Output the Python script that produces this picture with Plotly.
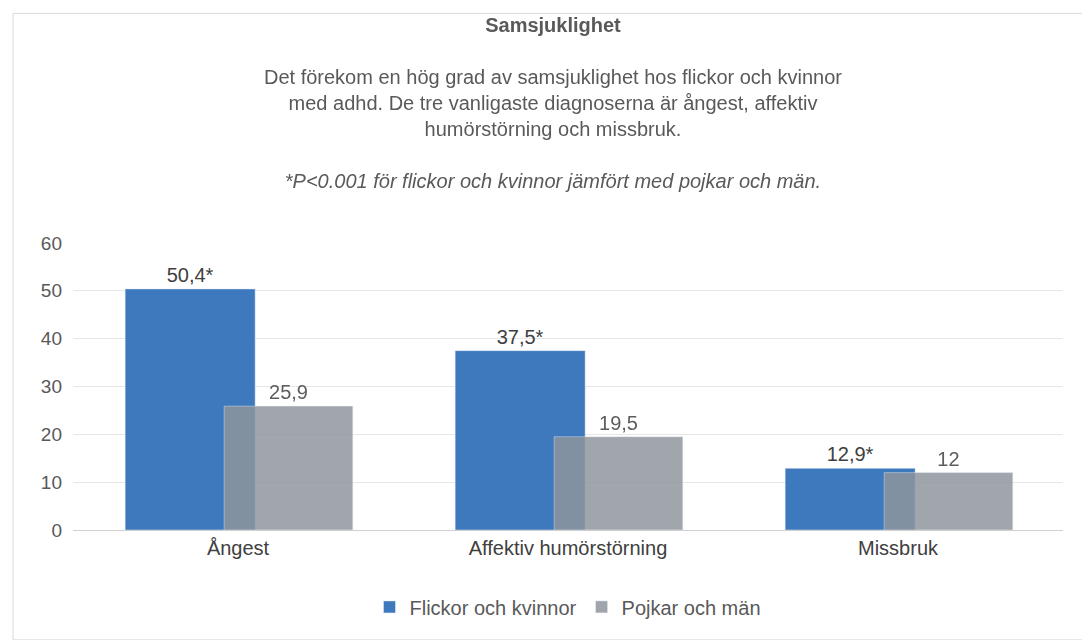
import plotly.graph_objects as go

categories = ["Ångest", "Affektiv humörstörning", "Missbruk"]
flickor = [50.4, 37.5, 12.9]
pojkar = [25.9, 19.5, 12]
flickor_labels = ["50,4*", "37,5*", "12,9*"]
pojkar_labels = ["25,9", "19,5", "12"]

fig = go.Figure()
fig.add_trace(go.Bar(x=categories, y=flickor, name="Flickor och kvinnor",
                     marker_color="#3f79bd", width=0.394, offset=-0.342,
                     text=flickor_labels, textposition="outside",
                     textfont=dict(size=20, color="#404040"), cliponaxis=False))
fig.add_trace(go.Bar(x=categories, y=pojkar, name="Pojkar och män",
                     marker_color="#8f969d", opacity=0.85, width=0.39, offset=-0.042,
                     text=pojkar_labels, textposition="outside",
                     textfont=dict(size=20, color="#404040"), cliponaxis=False))

fig.update_layout(
    width=1090, height=640, barmode="overlay",
    paper_bgcolor="white", plot_bgcolor="white",
    font=dict(family="Liberation Sans, Arial", color="#595959", size=18),
    margin=dict(l=65, r=35, t=235, b=118, autoexpand=False),
    title=dict(
        text="<b>Samsjuklighet</b><br><br>Det förekom en hög grad av samsjuklighet hos flickor och kvinnor<br>"
             "med adhd. De tre vanligaste diagnoserna är ångest, affektiv<br>humörstörning och missbruk."
             "<br><br><i>*P<0.001 för flickor och kvinnor jämfört med pojkar och män.</i>",
        x=0.5, xanchor="center", yref="container", y=1 - 24 / 640, yanchor="top",
        font=dict(size=20, color="#595959")),
    yaxis=dict(range=[0, 60], dtick=10, gridcolor="#e6e6e6", zeroline=False, automargin=False,
               tickfont=dict(size=19, color="#595959"), ticklabelstandoff=10),
    xaxis=dict(showline=True, linecolor="#d0d0d0", automargin=False,
               tickfont=dict(size=20, color="#404040")),
    legend=dict(orientation="h", x=0.5, xanchor="center", y=-0.2, yanchor="top",
                font=dict(size=20, color="#595959"), traceorder="normal"),
    shapes=[dict(type="rect", xref="paper", yref="paper", x0=-0.0606, x1=1.025, y0=-0.383, y1=1.80,
                 line=dict(color="#d9d9d9", width=1))],
)

fig.write_html("out.html")
